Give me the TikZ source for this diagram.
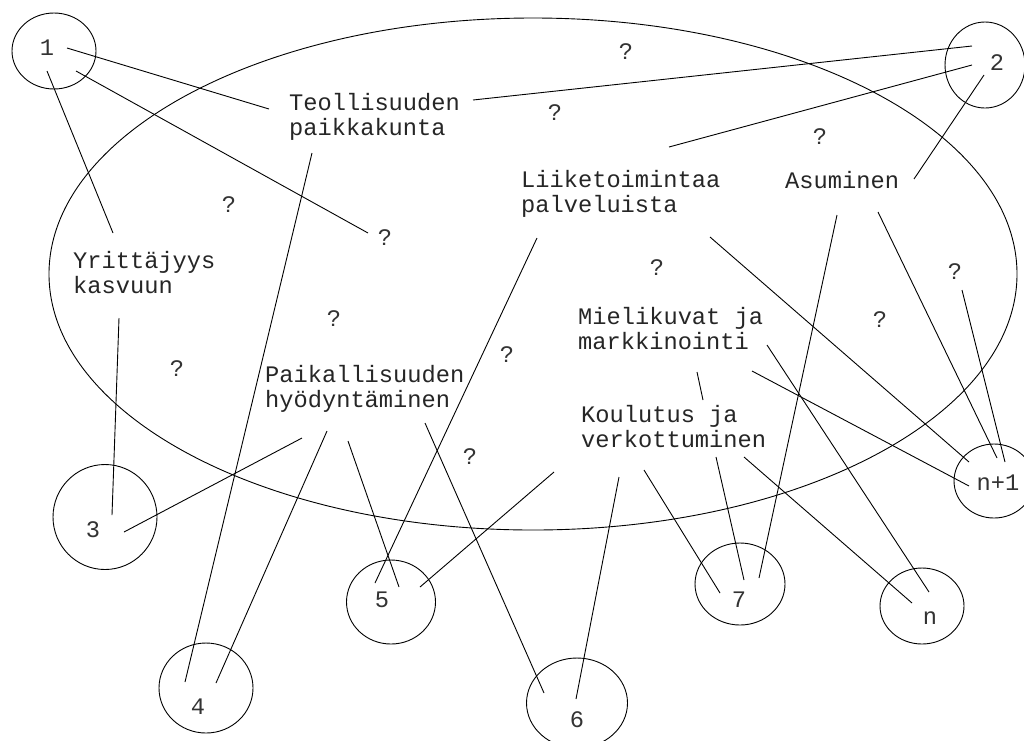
\documentclass[tikz,border=0pt]{standalone}
\usepackage{fontspec}
\setmainfont{Liberation Mono}
\usetikzlibrary{shapes.geometric}
\begin{document}
\begin{tikzpicture}[x=1pt,y=-1pt,
  lbl/.style={font=\fontsize{23.7}{24.5}\selectfont, text=black!85, inner sep=0pt, align=left, anchor=base west},
  qm/.style={font=\fontsize{23.7}{24.5}\selectfont, text=black!80, inner sep=0pt},
  ring/.style={draw, ellipse, inner sep=0pt, line width=0.9pt},
  conn/.style={line width=0.9pt}]
\useasboundingbox (0,0) rectangle (1024,740);
\fill[white] (0,0) rectangle (1024,740);

% big ellipse
\node[ring, minimum width=968pt, minimum height=512pt] (big) at (533,274) {};

% small circles
\node[ring, minimum width=84pt, minimum height=76pt] (c1) at (54,51) {};
\node[ring, minimum width=80pt, minimum height=86pt] (c2) at (985,65) {};
\node[ring, minimum width=104pt, minimum height=105pt] (c3) at (105,517) {};
\node[ring, minimum width=94pt, minimum height=90pt] (c4) at (206,688) {};
\node[ring, minimum width=89pt, minimum height=84pt] (c5) at (391,602) {};
\node[ring, minimum width=101pt, minimum height=90pt] (c6) at (577,703) {};
\node[ring, minimum width=90pt, minimum height=82pt] (c7) at (740,584) {};
\node[ring, minimum width=84pt, minimum height=76pt] (cn) at (922,606) {};
\node[ring, minimum width=80pt, minimum height=74pt] (cn1) at (994,481) {};

% circle labels
\node[qm] (l1) at (47,48) {1};
\node[qm] (l2) at (997,63) {2};
\node[qm] (l3) at (93,530) {3};
\node[qm] (l4) at (198,707) {4};
\node[qm] (l5) at (382,600) {5};
\node[qm] (l6) at (577,720) {6};
\node[qm] (l7) at (739,600) {7};
\node[qm] (ln) at (930,618) {n};
\node[qm] (ln1) at (998,483) {n+1};

% text blocks (anchor = baseline of last line)
\node[lbl] (teol) at (289,135) {Teollisuuden\\paikkakunta};
\node[lbl] (yrit) at (73,293) {Yrittäjyys\\kasvuun};
\node[lbl] (liik) at (521,212) {Liiketoimintaa\\palveluista};
\node[lbl] (asum) at (785,188) {Asuminen};
\node[lbl] (miel) at (578,349) {Mielikuvat ja\\markkinointi};
\node[lbl] (paik) at (265,407) {Paikallisuuden\\hyödyntäminen};
\node[lbl] (koul) at (581,447) {Koulutus ja\\verkottuminen};

% question marks
\node[qm] (q1) at (626,52) {?};
\node[qm] (q2) at (555,113) {?};
\node[qm] (q3) at (820,137) {?};
\node[qm] (q4) at (229,205) {?};
\node[qm] (q5) at (385,238) {?};
\node[qm] (q6) at (657,268) {?};
\node[qm] (q7) at (955,272) {?};
\node[qm] (q8) at (334,319) {?};
\node[qm] (q9) at (880,320) {?};
\node[qm] (q10) at (507,355) {?};
\node[qm] (q11) at (177,369) {?};
\node[qm] (q12) at (470,457) {?};

% connector end points
\coordinate (a1) at (67,48);   \coordinate (b1) at (269,109);
\coordinate (a2) at (76,71);   \coordinate (b2) at (368,233);
\coordinate (a3) at (47,71);   \coordinate (b3) at (113,233);
\coordinate (a4) at (473,100); \coordinate (b4) at (972,46);
\coordinate (a5) at (312,153); \coordinate (b5) at (185,682);
\coordinate (a6) at (119,318); \coordinate (b6) at (112,515);
\coordinate (a7) at (972,65);  \coordinate (b7) at (669,147);
\coordinate (a8) at (984,75);  \coordinate (b8) at (914,179);
\coordinate (a9) at (537,238); \coordinate (b9) at (375,583);
\coordinate (a10) at (710,237); \coordinate (b10) at (969,462);
\coordinate (a11) at (837,215); \coordinate (b11) at (759,578);
\coordinate (a12) at (878,212); \coordinate (b12) at (997,458);
\coordinate (a13) at (962,290); \coordinate (b13) at (1005,462);
\coordinate (a14) at (767,345); \coordinate (b14) at (929,592);
\coordinate (a15) at (752,371); \coordinate (b15) at (969,486);
\coordinate (a16) at (697,372); \coordinate (b16) at (703,400);
\coordinate (a17) at (302,438); \coordinate (b17) at (124,532);
\coordinate (a18) at (327,431); \coordinate (b18) at (216,683);
\coordinate (a19) at (348,441); \coordinate (b19) at (399,587);
\coordinate (a20) at (425,423); \coordinate (b20) at (544,693);
\coordinate (a21) at (554,472); \coordinate (b21) at (420,587);
\coordinate (a22) at (619,477); \coordinate (b22) at (576,699);
\coordinate (a23) at (644,470); \coordinate (b23) at (720,593);
\coordinate (a24) at (716,457); \coordinate (b24) at (744,580);
\coordinate (a25) at (744,457); \coordinate (b25) at (912,603);

\foreach \i in {1,...,25} {\draw[conn] (a\i) -- (b\i);}
\end{tikzpicture}
\end{document}
